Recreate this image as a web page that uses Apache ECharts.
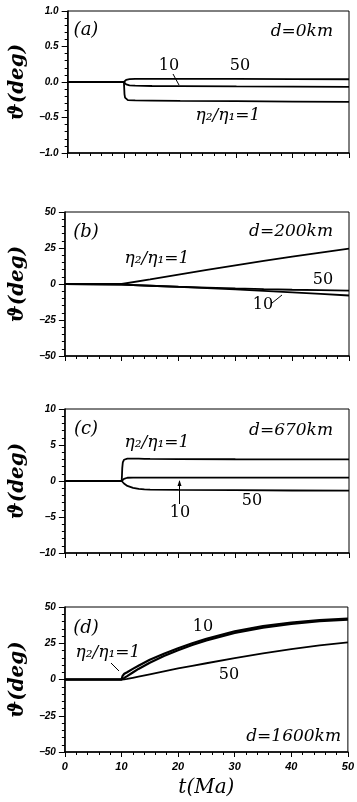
<!DOCTYPE html>
<html><head><meta charset="utf-8">
<script src="https://cdn.jsdelivr.net/npm/echarts@6/dist/echarts.min.js"></script>
<style>html,body{margin:0;padding:0;background:#fff}#c{width:357px;height:802px}</style>
</head><body><div id="c"></div>
<script>
// ---- data ----
const xTicks = [0, 10, 20, 30, 40, 50];
// panel (a) d=0km
const tA   = [0, 10, 10.05, 10.1, 10.2, 10.4, 10.7, 11, 12, 15, 20, 30, 40, 50];
const a1   = [0, 0, -0.08, -0.17, -0.22, -0.245, -0.255, -0.258, -0.26, -0.262, -0.265, -0.27, -0.275, -0.28];
const a10  = [0, 0, -0.005, -0.012, -0.022, -0.033, -0.042, -0.047, -0.052, -0.056, -0.058, -0.062, -0.065, -0.068];
const a50  = [0, 0, 0.006, 0.013, 0.022, 0.031, 0.037, 0.04, 0.043, 0.044, 0.044, 0.043, 0.041, 0.039];
// panel (b) d=200km
const tB   = [0, 10, 15, 20, 25, 30, 35, 40, 45, 50];
const b1   = [0, 0, 3.2, 6.5, 9.8, 13, 16, 19, 21.8, 24.5];
const b10  = [0, -0.5, -1.2, -2.0, -2.9, -3.8, -4.8, -5.8, -6.9, -8.0];
const b50  = [0, -0.5, -1.2, -1.9, -2.5, -3.1, -3.6, -4.0, -4.3, -4.6];
// panel (c) d=670km
const tC   = [0, 10, 10.05, 10.1, 10.2, 10.4, 10.7, 11, 12, 13, 14, 15, 20, 30, 40, 50];
const c1   = [0, 0, 0.8, 1.8, 2.6, 2.95, 3.08, 3.1, 3.1, 3.1, 3.08, 3.07, 3.05, 3.02, 3.0, 3.0];
const c10  = [0, 0, 0.05, 0.1, 0.18, 0.3, 0.4, 0.45, 0.48, 0.48, 0.48, 0.48, 0.48, 0.47, 0.47, 0.46];
const c50  = [0, 0, -0.05, -0.1, -0.2, -0.35, -0.52, -0.68, -0.95, -1.1, -1.17, -1.2, -1.24, -1.28, -1.32, -1.35];
// panel (d) d=1600km
const tD   = [0, 10, 10.2, 10.5, 11, 12, 13, 15, 17.5, 20, 22.5, 25, 30, 35, 40, 45, 50];
const d1   = [0, 0, 2.5, 4, 5, 7.3, 9.5, 13.6, 17.8, 21.6, 25, 28.1, 33.2, 36.8, 39.3, 41, 42];
const d10  = [0, 0, 0.4, 1.1, 2.3, 4.8, 7.3, 11.6, 16.2, 20.2, 23.8, 27.0, 32.1, 35.8, 38.4, 40.2, 41.2];
const d50  = [0, 0, 0, 0.1, 0.4, 1.2, 2.0, 3.6, 5.6, 7.6, 9.4, 11.2, 14.8, 18.0, 21.0, 23.5, 25.6];
const yRanges = [[-1, 1, 0.5], [-50, 50, 25], [-10, 10, 5], [-50, 50, 25]];

// ---- chart ----
const zip = (t, y) => t.map((v, i) => [v, y[i]]);
const panels = [
  {t: tA, curves: [a1, a10, a50], top: 11, h: 142},
  {t: tB, curves: [b1, b10, b50], top: 212, h: 144},
  {t: tC, curves: [c1, c10, c50], top: 409, h: 144},
  {t: tD, curves: [d1, d10, d50], top: 607, h: 145}
];
const tickFont = {fontFamily: 'Liberation Sans', fontStyle: 'italic', fontWeight: 'bold', fontSize: 10, color: '#000'};
const fmtY = (p) => (v) => {
  let s = p === 0 ? v.toFixed(1) : String(v);
  return s.replace('-', '\u2212');
};
const grid = [], xAxis = [], yAxis = [], series = [];
panels.forEach((p, i) => {
  grid.push({left: 61, width: 288, top: p.top, height: p.h, show: true, borderColor: '#000', borderWidth: 1, backgroundColor: 'transparent'});
  xAxis.push({
    gridIndex: i, type: 'value', min: 0, max: 50, interval: 10,
    axisLine: {show: true, onZero: false, lineStyle: {color: '#000', width: 1.5}},
    axisTick: {show: true, inside: false, length: 5, lineStyle: {color: '#000', width: 1}},
    minorTick: {show: true, splitNumber: 5, length: 3, lineStyle: {color: '#000', width: 1}},
    axisLabel: {show: i === 3, margin: 9, ...tickFont, fontSize: 11},
    splitLine: {show: false},
    name: i === 3 ? 't(Ma)' : '', nameLocation: 'middle', nameGap: 26,
    nameTextStyle: {fontFamily: 'DejaVu Serif', fontStyle: 'italic', fontSize: 20, color: '#000'}
  });
  const r = yRanges[i];
  yAxis.push({
    gridIndex: i, type: 'value', min: r[0], max: r[1], interval: r[2],
    axisLine: {show: true, onZero: false, lineStyle: {color: '#000', width: 1.5}},
    axisTick: {show: true, inside: false, length: 6, lineStyle: {color: '#000', width: 1}},
    minorTick: {show: true, splitNumber: 5, length: 3, lineStyle: {color: '#000', width: 1}},
    axisLabel: {margin: 9, ...tickFont, formatter: fmtY(i)},
    splitLine: {show: false},
    name: '\u03D1(deg)', nameLocation: 'middle', nameGap: 28,
    nameTextStyle: {fontFamily: 'DejaVu Serif', fontStyle: 'italic', fontWeight: 'bold', fontSize: 20, color: '#000'}
  });
  p.curves.forEach((c, k) => {
    series.push({
      type: 'line', xAxisIndex: i, yAxisIndex: i, data: zip(p.t, c),
      showSymbol: false, symbol: 'none', animation: false,
      lineStyle: {color: '#000', width: (i === 3 && k < 2) ? 2.2 : 1.8}
    });
  });
});

const serif = 'DejaVu Serif';
const T = (x, y, text, size, align, italic) => ({
  type: 'text', x, y, silent: true,
  style: {text, fill: '#000', align: align || 'center', verticalAlign: 'middle',
    font: (italic ? 'italic ' : '') + size + 'px "' + serif + '"'}
});
const L = (x1, y1, x2, y2) => ({type: 'line', silent: true, shape: {x1, y1, x2, y2}, style: {stroke: '#000', lineWidth: 1}});
const eta = '\u03B7\u2082/\u03B7\u2081=1';
const graphic = [
  T(86, 30, '(a)', 18, 'center', true), T(333, 32, 'd=0km', 17, 'right', true),
  T(169, 66, '10', 16), T(240, 66, '50', 16), T(228, 116, eta, 17, 'center', true),
  L(173, 74, 179, 85),
  T(86, 232, '(b)', 18, 'center', true), T(333, 232, 'd=200km', 17, 'right', true),
  T(157, 259, eta, 17, 'center', true), T(323, 280, '50', 16), T(263, 305, '10', 16),
  L(272, 303, 282, 295),
  T(86, 429, '(c)', 18, 'center', true), T(333, 431, 'd=670km', 17, 'right', true),
  T(157, 443, eta, 17, 'center', true), T(252, 501, '50', 16), T(180, 513, '10', 16),
  L(179.5, 504, 179.5, 481),
  {type: 'polygon', silent: true, shape: {points: [[177.5, 486], [179.5, 480], [181.5, 486]]}, style: {fill: '#000'}},
  T(86, 628, '(d)', 18, 'center', true), T(203, 627, '10', 16),
  T(108, 653, eta, 17, 'center', true), T(229, 675, '50', 16),
  T(341, 737, 'd=1600km', 17, 'right', true),
  L(111, 663, 119, 671)
];

const chart = echarts.init(document.getElementById('c'), null, {renderer: 'canvas'});
chart.setOption({animation: false, backgroundColor: '#fff', grid, xAxis, yAxis, series, graphic});
</script></body></html>
